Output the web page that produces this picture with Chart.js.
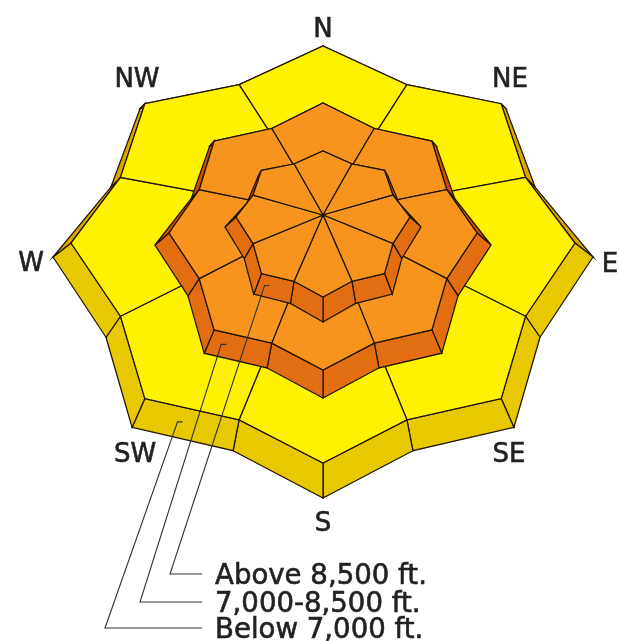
<!DOCTYPE html>
<html>
<head>
<meta charset="utf-8">
<title>Avalanche danger rose</title>
<script src="https://cdn.jsdelivr.net/npm/chart.js@4.4.1/dist/chart.umd.min.js"></script>
<style>
    html, body { margin: 0; padding: 0; background: #fff; }
    #rose { display: block; }
</style>
</head>
<body>
<canvas id="rose" width="619" height="641"></canvas>
<script>
// Aspects, clockwise from north
const aspects = ['N', 'NE', 'E', 'SE', 'S', 'SW', 'W', 'NW'];

// Elevation bands, top of the mountain first
const elevationBands = ['Above 8,500 ft.', '7,000-8,500 ft.', 'Below 7,000 ft.'];

// Danger level per aspect for each band (2 = moderate, 3 = considerable)
const dangerAbove = [3, 3, 3, 3, 3, 3, 3, 3];
const dangerMiddle = [3, 3, 3, 3, 3, 3, 3, 3];
const dangerBelow = [2, 2, 2, 2, 2, 2, 2, 2];
const dangerByBand = [dangerAbove, dangerMiddle, dangerBelow];

// Colours for each danger level: top face, lit wall, shaded wall
const DANGER_COLORS = {
    2: { face: '#FFF200', wall: '#E8C800', shade: '#DCA600' },
    3: { face: '#F7941E', wall: '#E36E12', shade: '#D24C02' }
};
const LINE_COLOR = '#1e1400';
const TEXT_COLOR = '#222';

// Layout of the stepped rose (pixels, y down)
// a = half width (an = half width used on the north side), bn/bs = north/south depth
const CX = 323;
const APEX_Y = 215;
const NOTCH = 0.87;
const bandGeometry = [
    { top: { cy: 217, a: 87, an: 87, bn: 66, bs: 80 },    bottom: { cy: 227, a: 98, an: 89, bn: 72, bs: 95 } },
    { top: { cy: 233, a: 154, an: 154, bn: 130, bs: 137 }, bottom: { cy: 245, a: 168, an: 157, bn: 140, bs: 153 } },
    { top: { cy: 243, a: 252, an: 252, bn: 197, bs: 220 }, bottom: { cy: 257, a: 270, an: 254, bn: 210, bs: 241 } }
];
const leaderLayout = [
    { t: 0.2, cornerX: 170, rowY: 574 },
    { t: 0.2, cornerX: 140, rowY: 602 },
    { t: 0.4, cornerX: 105, rowY: 628 }
];
const LEGEND_X = 215;
const labelPos = {
    N: [323, 27], NE: [510, 77], E: [610, 262], SE: [509, 452],
    S: [323, 521], SW: [135, 452], W: [31, 261], NW: [137, 77]
};

/**
 * Project a plan point (angle in degrees from north, relative radius) onto the page
 */
function project(level, deg, r) {
    const th = deg * Math.PI / 180;
    const c = Math.cos(th);
    const a = level.a + (level.an - level.a) * Math.max(0, c);
    return {
        x: CX + r * Math.sin(th) * a,
        y: level.cy - r * c * (c >= 0 ? level.bn : level.bs)
    };
}

// 16 vertices of the star outline: tips on aspects, notches between them
function starVertex(level, j) {
    return project(level, j * 22.5, j % 2 === 0 ? 1 : NOTCH);
}

function polygon(points, fillColor, width) {
    return {
        data: points.concat([points[0]]),
        showLine: true,
        fill: 'shape',
        backgroundColor: fillColor,
        borderColor: LINE_COLOR,
        borderWidth: width || 1.25,
        pointRadius: 0,
        tension: 0
    };
}

function buildDatasets() {
    const layers = [];
    const n = aspects.length;

    // outer band first so the higher bands sit on top of it
    for (let b = elevationBands.length - 1; b >= 0; b--) {
        const geo = bandGeometry[b];
        const danger = dangerByBand[b];

        // side walls, one quad per outline edge
        for (let j = 0; j < n * 2; j++) {
            const owner = j % 2 === 0 ? j / 2 : ((j + 1) / 2) % n;
            const midDeg = (j + 0.5) * 22.5;
            const shaded = Math.cos(midDeg * Math.PI / 180) > 0;
            const col = DANGER_COLORS[danger[owner]];
            layers.push(polygon([
                starVertex(geo.top, j),
                starVertex(geo.top, j + 1),
                starVertex(geo.bottom, j + 1),
                starVertex(geo.bottom, j)
            ], shaded ? col.shade : col.wall));
        }

        // top faces, one wedge per aspect
        for (let i = 0; i < n; i++) {
            const apex = { x: CX, y: APEX_Y };
            layers.push(polygon([
                apex,
                starVertex(geo.top, (2 * i - 1 + 2 * n) % (2 * n)),
                starVertex(geo.top, 2 * i),
                starVertex(geo.top, 2 * i + 1)
            ], DANGER_COLORS[danger[i]].face));
        }
    }

    // leader lines from the SW wall of each band to the legend
    const sw = aspects.indexOf('SW');
    const lerp = (p, q, t) => ({ x: p.x + (q.x - p.x) * t, y: p.y + (q.y - p.y) * t });
    elevationBands.forEach((band, b) => {
        const geo = bandGeometry[b];
        const lay = leaderLayout[b];
        const jTip = sw * 2;
        const jNotch = jTip - 1;
        const topPt = lerp(starVertex(geo.top, jTip), starVertex(geo.top, jNotch), lay.t);
        const botPt = lerp(starVertex(geo.bottom, jTip), starVertex(geo.bottom, jNotch), lay.t);
        const end = lerp(topPt, botPt, 0.5);
        layers.push({
            data: [
                { x: end.x + 5, y: end.y },
                end,
                { x: lay.cornerX, y: lay.rowY },
                { x: LEGEND_X - 13, y: lay.rowY }
            ],
            showLine: true,
            fill: false,
            borderColor: '#333',
            borderWidth: 1.1,
            pointRadius: 0,
            tension: 0
        });
    });

    // Chart.js paints dataset 0 last, so reverse the painter's order
    return layers.reverse();
}

const roseText = {
    id: 'roseText',
    afterDraw(chart) {
        const ctx = chart.ctx;
        const xs = chart.scales.x;
        const ys = chart.scales.y;
        ctx.save();
        ctx.fillStyle = TEXT_COLOR;
        ctx.strokeStyle = TEXT_COLOR;
        ctx.lineWidth = 0.6;
        ctx.font = '26px "DejaVu Sans", Verdana, sans-serif';
        ctx.textAlign = 'center';
        ctx.textBaseline = 'alphabetic';
        aspects.forEach(a => {
            const p = labelPos[a];
            const x = xs.getPixelForValue(p[0]);
            const y = ys.getPixelForValue(p[1]) + 9.5;
            ctx.fillText(a, x, y);
            ctx.strokeText(a, x, y);
        });
        ctx.font = '27.6px "DejaVu Sans", Verdana, sans-serif';
        ctx.textAlign = 'left';
        elevationBands.forEach((band, b) => {
            const x = xs.getPixelForValue(LEGEND_X);
            const y = ys.getPixelForValue(leaderLayout[b].rowY) + 9.5;
            ctx.fillText(band, x, y);
            ctx.strokeText(band, x, y);
        });
        ctx.restore();
    }
};

function initializeRose() {
    const ctx = document.getElementById('rose');
    new Chart(ctx, {
        type: 'scatter',
        data: { datasets: buildDatasets() },
        options: {
            responsive: false,
            animation: false,
            layout: { padding: 0 },
            plugins: {
                legend: { display: false },
                tooltip: { enabled: false }
            },
            scales: {
                x: { type: 'linear', min: 0, max: 619, display: false },
                y: { type: 'linear', min: 0, max: 641, reverse: true, display: false }
            },
            events: []
        },
        plugins: [roseText]
    });
}

document.addEventListener('DOMContentLoaded', initializeRose);
</script>
</body>
</html>
